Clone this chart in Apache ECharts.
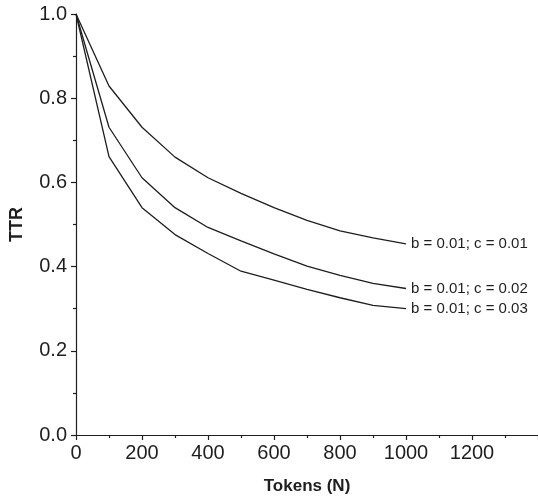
<!DOCTYPE html>
<html>
<head>
<meta charset="utf-8">
<script src="https://cdn.jsdelivr.net/npm/echarts@6/dist/echarts.min.js"></script>
<style>
  html, body { margin: 0; padding: 0; background: #fff; }
  #chart { width: 538px; height: 500px; }
</style>
</head>
<body>
<div id="chart"></div>
<script>
// Data
const tokens = [0, 100, 200, 300, 400, 500, 600, 700, 800, 900, 1000];
const seriesNames = ['b = 0.01; c = 0.01', 'b = 0.01; c = 0.02', 'b = 0.01; c = 0.03'];
const ttrC001 = [1.0, 0.829, 0.731, 0.660, 0.611, 0.574, 0.540, 0.510, 0.485, 0.468, 0.454];
const ttrC002 = [1.0, 0.731, 0.611, 0.540, 0.493, 0.461, 0.430, 0.401, 0.379, 0.360, 0.348];
const ttrC003 = [1.0, 0.661, 0.540, 0.476, 0.431, 0.389, 0.368, 0.346, 0.326, 0.308, 0.300];
const xTicks = [0, 200, 400, 600, 800, 1000, 1200];
const yTicks = [0.0, 0.2, 0.4, 0.6, 0.8, 1.0];

const allSeries = [ttrC001, ttrC002, ttrC003];
const font = '"Liberation Sans", Arial, Helvetica, sans-serif';
const ink = '#1e1e1e';

const chart = echarts.init(document.getElementById('chart'), null, { renderer: 'canvas' });

chart.setOption({
  animation: false,
  backgroundColor: '#fff',
  textStyle: { fontFamily: font },
  grid: { left: 72, top: 14, width: 468, height: 422, containLabel: false },
  xAxis: [{
    type: 'value',
    min: 0, max: 1400, interval: 200,
    name: 'Tokens (N)', nameLocation: 'middle', nameGap: 43,
    nameTextStyle: { fontFamily: font, fontSize: 17, fontWeight: 'bold', color: ink },
    axisLine: { show: true, onZero: false, lineStyle: { color: ink, width: 1.2 } },
    axisTick: { show: true, inside: false, length: 5, lineStyle: { color: ink, width: 1.2 } },
    minorTick: { show: true, splitNumber: 2, length: 3, lineStyle: { color: ink, width: 1.2 } },
    splitLine: { show: false },
    axisLabel: {
      fontFamily: font, fontSize: 20, color: ink, margin: 8,
      showMaxLabel: false,
      formatter: v => (xTicks.indexOf(v) >= 0 ? String(v) : '')
    }
  }, {
    type: 'value', position: 'top',
    min: 0, max: 1400,
    axisLine: { show: true, lineStyle: { color: ink, width: 1.2 } },
    axisTick: { show: false }, axisLabel: { show: false }, splitLine: { show: false }
  }],
  yAxis: {
    type: 'value',
    min: 0, max: 1.0, interval: 0.2,
    name: 'TTR', nameLocation: 'middle', nameGap: 50, nameRotate: 90,
    nameTextStyle: { fontFamily: font, fontSize: 18, fontWeight: 'bold', color: ink },
    axisLine: { show: true, onZero: false, lineStyle: { color: ink, width: 1.2 } },
    axisTick: { show: true, inside: false, length: 5, lineStyle: { color: ink, width: 1.2 } },
    minorTick: { show: true, splitNumber: 2, length: 3, lineStyle: { color: ink, width: 1.2 } },
    splitLine: { show: false },
    axisLabel: {
      fontFamily: font, fontSize: 20, color: ink, margin: 9,
      formatter: v => {
        const t = yTicks.find(y => Math.abs(y - v) < 1e-9);
        return t === undefined ? '' : t.toFixed(1);
      }
    }
  },
  series: allSeries.map((vals, i) => ({
    name: seriesNames[i],
    type: 'line',
    data: tokens.map((t, j) => [t, vals[j]]),
    showSymbol: false,
    symbol: 'none',
    lineStyle: { color: ink, width: 1.3 },
    endLabel: {
      show: true,
      formatter: seriesNames[i],
      fontFamily: font, fontSize: 15, color: ink,
      distance: 5
    },
    emphasis: { disabled: true }
  }))
});
</script>
</body>
</html>
